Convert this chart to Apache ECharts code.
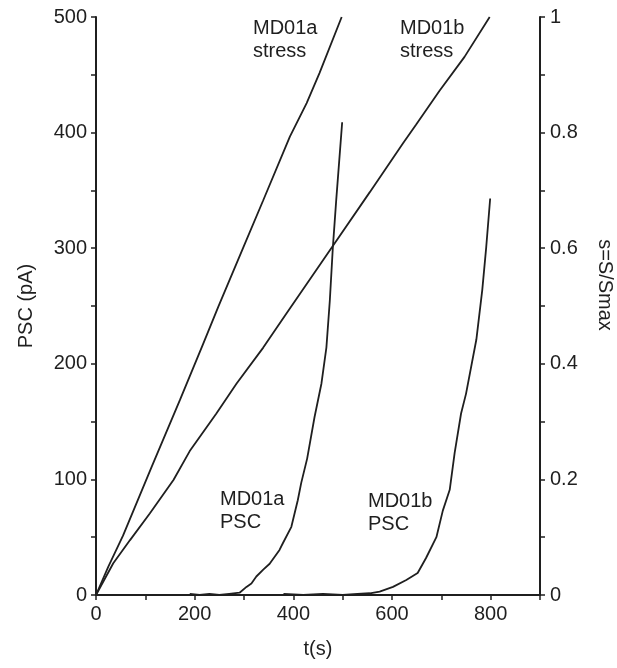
<!DOCTYPE html>
<html>
<head>
<meta charset="utf-8">
<script src="https://cdn.jsdelivr.net/npm/echarts@6/dist/echarts.min.js"></script>
<style>
html,body{margin:0;padding:0;background:#fff;}
#c{width:617px;height:668px;}
</style>
</head>
<body>
<div id="c"></div>
<script>
// MD01a stress (right axis, s = S/Smax)
var stressA_t = [0, 25, 55, 113, 170, 217, 248, 298, 339, 393, 427, 453, 498];
var stressA_s = [0, 0.049, 0.103, 0.222, 0.337, 0.434, 0.499, 0.600, 0.683, 0.793, 0.851, 0.903, 1.0];
// MD01b stress
var stressB_t = [0, 35, 69, 109, 157, 190, 244, 285, 339, 386, 480, 555, 622, 649, 696, 747, 798];
var stressB_s = [0, 0.055, 0.095, 0.141, 0.199, 0.249, 0.314, 0.366, 0.428, 0.487, 0.604, 0.697, 0.781, 0.814, 0.872, 0.931, 1.0];
// MD01a PSC (left axis, pA)
var pscA_t = [190, 210, 230, 250, 270, 291, 305, 315, 325, 339, 352, 372, 379, 396, 409, 416, 428, 443, 457, 467, 474, 480, 487, 499];
var pscA_v = [1, 0, 1, 0, 1, 2, 7, 10, 16, 22, 27, 39, 45, 59, 82, 97, 118, 154, 183, 214, 255, 300, 342, 409];
// MD01b PSC
var pscB_t = [380, 420, 460, 500, 530, 555, 575, 602, 629, 652, 669, 690, 703, 717, 727, 740, 750, 771, 783, 791, 799];
var pscB_v = [1, 0, 1, 0, 1, 1.5, 3, 7, 13, 19, 32, 50, 73, 91, 123, 157, 174, 221, 264, 301, 343];

var xTicks = [0, 200, 400, 600, 800];
var leftTicks = [0, 100, 200, 300, 400, 500];
var rightTicks = [0, 0.2, 0.4, 0.6, 0.8, 1];

var labels = [
  {text: 'MD01a\nstress', left: 253, top: 17},
  {text: 'MD01b\nstress', left: 400, top: 17},
  {text: 'MD01a\nPSC', left: 220, top: 488},
  {text: 'MD01b\nPSC', left: 368, top: 490}
];

function zip(a, b) { return a.map(function (v, i) { return [v, b[i]]; }); }

var FONT = '"Liberation Sans", Arial, sans-serif';
var INK = '#1f1f1f';
var axisCommon = {
  axisLine: {show: true, lineStyle: {color: INK, width: 2}},
  axisTick: {show: true, inside: false, length: 5, lineStyle: {color: INK, width: 1.5}},
  splitLine: {show: false},
  axisLabel: {color: INK, fontSize: 20, fontFamily: FONT}
};

function inList(list, v) {
  for (var i = 0; i < list.length; i++) if (Math.abs(list[i] - v) < 1e-6) return true;
  return false;
}

var chart = echarts.init(document.getElementById('c'), null, {renderer: 'canvas'});
var lineStyle = {color: INK, width: 1.8};
chart.setOption({
  animation: false,
  backgroundColor: '#fff',
  grid: {left: 96, right: 77, top: 17, bottom: 73},
  xAxis: Object.assign({}, axisCommon, {
    type: 'value', min: 0, max: 900, interval: 100,
    name: 't(s)', nameLocation: 'middle', nameGap: 44,
    nameTextStyle: {color: INK, fontSize: 20, fontFamily: FONT},
    axisLabel: Object.assign({}, axisCommon.axisLabel, {margin: 9,
      formatter: function (v) { return inList(xTicks, v) ? String(v) : ''; }})
  }),
  yAxis: [
    Object.assign({}, axisCommon, {
      type: 'value', min: 0, max: 500, interval: 50, position: 'left',
      name: 'PSC (pA)', nameLocation: 'middle', nameGap: 60,
      nameTextStyle: {color: INK, fontSize: 20, fontFamily: FONT},
      axisLabel: Object.assign({}, axisCommon.axisLabel, {margin: 9,
        formatter: function (v) { return inList(leftTicks, v) ? String(v) : ''; }})
    }),
    Object.assign({}, axisCommon, {
      type: 'value', min: 0, max: 1, interval: 0.1, position: 'right',
      axisLabel: Object.assign({}, axisCommon.axisLabel, {margin: 10,
        formatter: function (v) { return inList(rightTicks, v) ? String(Math.round(v * 10) / 10) : ''; }})
    })
  ],
  graphic: labels.map(function (l) {
    return {type: 'text', left: l.left, top: l.top,
      style: {text: l.text, fill: INK, font: '20px ' + FONT, lineHeight: 23}};
  }).concat([{
    type: 'text', x: 605, y: 285, rotation: -Math.PI / 2,
    style: {text: 's=S/Smax', fill: INK, font: '20px ' + FONT, align: 'center', verticalAlign: 'middle'}
  }]),
  series: [
    {type: 'line', name: 'MD01a stress', yAxisIndex: 1, data: zip(stressA_t, stressA_s), showSymbol: false, lineStyle: lineStyle},
    {type: 'line', name: 'MD01b stress', yAxisIndex: 1, data: zip(stressB_t, stressB_s), showSymbol: false, lineStyle: lineStyle},
    {type: 'line', name: 'MD01a PSC', yAxisIndex: 0, data: zip(pscA_t, pscA_v), showSymbol: false, lineStyle: lineStyle},
    {type: 'line', name: 'MD01b PSC', yAxisIndex: 0, data: zip(pscB_t, pscB_v), showSymbol: false, lineStyle: lineStyle}
  ]
});
</script>
</body>
</html>
